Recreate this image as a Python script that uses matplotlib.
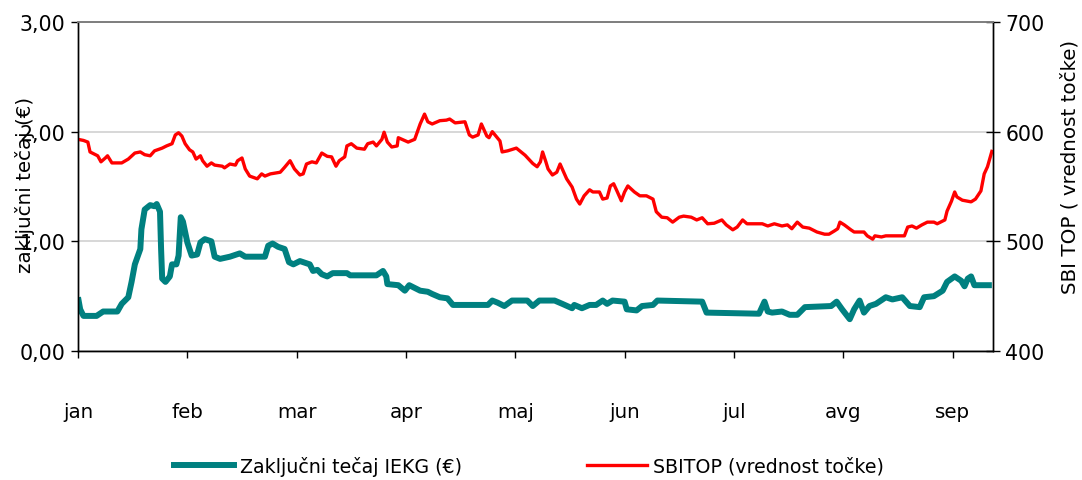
import matplotlib
matplotlib.use("Agg")
import matplotlib.pyplot as plt
from matplotlib.ticker import FuncFormatter
from matplotlib.lines import Line2D

# x positions are in months from 1 Jan (0 = jan, 1 = feb, ...)
months = ["jan", "feb", "mar", "apr", "maj", "jun", "jul", "avg", "sep"]

iekg_pos = [
    0.00, 0.02, 0.05, 0.17, 0.23, 0.36, 0.40, 0.46, 0.49, 0.52, 0.57, 0.58, 0.61, 0.66,
    0.70, 0.72, 0.75, 0.76, 0.77, 0.80, 0.84, 0.86, 0.90, 0.92, 0.94, 0.96, 1.00, 1.04,
    1.09, 1.12, 1.16, 1.22, 1.25, 1.30, 1.39, 1.48, 1.53, 1.71, 1.74, 1.78, 1.83, 1.89,
    1.93, 1.97, 2.03, 2.12, 2.15, 2.19, 2.23, 2.28, 2.33, 2.46, 2.49, 2.73, 2.79, 2.82,
    2.83, 2.93, 2.99, 3.03, 3.13, 3.20, 3.24, 3.31, 3.38, 3.43, 3.75, 3.79, 3.84, 3.90,
    3.97, 4.11, 4.16, 4.22, 4.36, 4.43, 4.52, 4.54, 4.61, 4.68, 4.74, 4.80, 4.84, 4.89,
    5.00, 5.02, 5.11, 5.16, 5.26, 5.30, 5.71, 5.75, 6.23, 6.28, 6.31, 6.35, 6.44, 6.51,
    6.58, 6.65, 6.89, 6.94, 6.99, 7.06, 7.10, 7.15, 7.19, 7.24, 7.30, 7.39, 7.45, 7.54,
    7.61, 7.70, 7.74, 7.83, 7.91, 7.95, 8.02, 8.08, 8.11, 8.14, 8.17, 8.20, 8.36,
]
iekg_close = [
    0.49, 0.38, 0.32, 0.32, 0.36, 0.36, 0.43, 0.49, 0.63, 0.79, 0.93, 1.11, 1.29, 1.33,
    1.32, 1.34, 1.27, 0.93, 0.66, 0.63, 0.68, 0.79, 0.79, 0.87, 1.22, 1.18, 0.99, 0.87,
    0.88, 0.99, 1.02, 1.00, 0.86, 0.84, 0.86, 0.89, 0.86, 0.86, 0.96, 0.98, 0.95, 0.93,
    0.81, 0.79, 0.82, 0.79, 0.73, 0.74, 0.70, 0.68, 0.71, 0.71, 0.69, 0.69, 0.73, 0.68,
    0.61, 0.60, 0.55, 0.60, 0.55, 0.54, 0.52, 0.49, 0.48, 0.42, 0.42, 0.46, 0.44, 0.41,
    0.46, 0.46, 0.41, 0.46, 0.46, 0.43, 0.39, 0.42, 0.39, 0.42, 0.42, 0.46, 0.43, 0.46,
    0.45, 0.38, 0.37, 0.41, 0.42, 0.46, 0.45, 0.35, 0.34, 0.45, 0.36, 0.35, 0.36, 0.33,
    0.33, 0.40, 0.41, 0.45, 0.38, 0.29, 0.38, 0.46, 0.35, 0.41, 0.43, 0.49, 0.47, 0.49,
    0.41, 0.40, 0.49, 0.50, 0.55, 0.63, 0.68, 0.64, 0.59, 0.66, 0.68, 0.60, 0.60,
]

sbitop_pos = [
    0.00, 0.05, 0.09, 0.11, 0.16, 0.18, 0.21, 0.25, 0.27, 0.31, 0.40, 0.46, 0.52, 0.57,
    0.61, 0.66, 0.70, 0.77, 0.81, 0.86, 0.89, 0.92, 0.95, 0.98, 1.02, 1.05, 1.08, 1.12,
    1.14, 1.18, 1.22, 1.25, 1.32, 1.34, 1.39, 1.44, 1.46, 1.50, 1.53, 1.57, 1.64, 1.68,
    1.71, 1.76, 1.85, 1.89, 1.94, 1.98, 2.03, 2.06, 2.09, 2.14, 2.18, 2.23, 2.28, 2.32,
    2.36, 2.39, 2.44, 2.46, 2.50, 2.55, 2.62, 2.65, 2.70, 2.73, 2.78, 2.80, 2.83, 2.87,
    2.92, 2.93, 3.02, 3.08, 3.13, 3.17, 3.20, 3.24, 3.31, 3.37, 3.40, 3.45, 3.54, 3.58,
    3.61, 3.66, 3.69, 3.74, 3.76, 3.79, 3.86, 3.88, 3.93, 4.01, 4.09, 4.16, 4.20, 4.23,
    4.25, 4.28, 4.30, 4.34, 4.38, 4.41, 4.43, 4.47, 4.52, 4.56, 4.59, 4.63, 4.68, 4.71,
    4.77, 4.80, 4.84, 4.87, 4.90, 4.93, 4.97, 5.00, 5.03, 5.09, 5.14, 5.20, 5.26, 5.29,
    5.34, 5.39, 5.44, 5.50, 5.54, 5.61, 5.66, 5.71, 5.76, 5.82, 5.89, 5.93, 5.99, 6.03,
    6.08, 6.12, 6.26, 6.31, 6.37, 6.44, 6.49, 6.53, 6.58, 6.63, 6.69, 6.76, 6.83, 6.87,
    6.92, 6.95, 6.97, 7.01, 7.07, 7.10, 7.19, 7.22, 7.27, 7.29, 7.35, 7.39, 7.56, 7.59,
    7.63, 7.67, 7.72, 7.77, 7.83, 7.86, 7.93, 7.95, 7.99, 8.02, 8.04, 8.09, 8.17, 8.21,
    8.26, 8.29, 8.32, 8.36,
]
sbitop_value = [
    593, 592, 590.5, 581.5, 579, 578, 572.5, 576, 578, 571.5, 571.5, 575, 580.5, 581.5,
    579, 578, 582.5, 585, 587, 589, 597, 599, 596, 589, 583.5, 581.5, 575, 578,
    573.5, 568.5, 571.5, 569.5, 568.5, 567, 570.5, 569.5, 573.5, 576, 566, 559.5, 557, 561.5,
    559.5, 561.5, 563, 567.5, 573.5, 566, 560.5, 561.5, 570.5, 572.5, 571.5, 580.5, 577.5, 577,
    568.5, 573.5, 577, 587, 589, 585, 584, 589, 590.5, 587, 593, 599.5, 590.5, 586,
    587, 594.5, 590.5, 593, 607, 616, 609, 607, 610, 610.5, 611.5, 608, 609, 597,
    595, 597, 607, 596, 594.5, 600, 591.5, 581.5, 582.5, 585, 578.5, 571, 568, 572.5,
    581.5, 572.5, 566, 560.5, 563, 570.5, 566, 557, 549.5, 538.5, 534, 541.5, 547, 545,
    545, 538.5, 539.5, 550.5, 552.5, 546, 537, 545, 550.5, 545, 541.5, 541.5, 538.5, 527,
    522, 521.5, 517.5, 522, 523, 522, 519.5, 521.5, 516, 516.5, 519.5, 515, 510.5, 513,
    519.5, 516, 516, 514, 516, 514, 515, 511.5, 517.5, 513, 512, 508.5, 506.5, 506.5,
    509.5, 511.5, 517.5, 515, 510.5, 508.5, 508.5, 505, 502, 505, 504, 505, 505, 513,
    514, 512, 515, 517.5, 517.5, 516, 519.5, 527.5, 536.5, 545, 540.5, 537.5, 536, 538.5,
    546, 561.5, 568, 582,
]

TEAL = "#008080"
RED = "#FF0000"

plt.rcParams["font.family"] = "DejaVu Sans"

fig = plt.figure(figsize=(10.82, 4.81), dpi=100)
ax = fig.add_axes([0.0721, 0.2682, 0.8456, 0.6840])
ax2 = ax.twinx()

ax.plot(iekg_pos, iekg_close, color=TEAL, lw=4.3, solid_joinstyle="round", solid_capstyle="butt")
ax2.plot(sbitop_pos, sbitop_value, color=RED, lw=2.4, solid_joinstyle="round")

ax.set_xlim(0, 8.37)
ax.set_ylim(0, 3)
ax2.set_ylim(400, 700)

ax.set_yticks([0, 1, 2, 3])
ax.yaxis.set_major_formatter(FuncFormatter(lambda v, p: f"{v:.2f}".replace(".", ",")))
ax2.set_yticks([400, 500, 600, 700])
ax.set_xticks(range(len(months)))
ax.set_xticklabels(months)

ax.grid(axis="y", color="#d4d4d4", lw=1.3)
ax.set_axisbelow(True)

for a in (ax, ax2):
    a.spines["top"].set_color("#808080")
    a.spines["top"].set_linewidth(1.3)
    for s in ("left", "right", "bottom"):
        a.spines[s].set_color("black")
        a.spines[s].set_linewidth(1.0)

ax.tick_params(axis="y", direction="out", length=5, width=1, pad=4, labelsize=14.8)
ax.tick_params(axis="x", direction="out", length=5, width=1, pad=32, labelsize=14.3)
ax2.tick_params(axis="y", direction="inout", length=10, width=1, pad=4, labelsize=14.8)

fig.text(0.023, 0.615, "zaključni tečaj (€)", rotation=90, ha="center", va="center", fontsize=14.3)
fig.text(0.989, 0.653, "SBI TOP ( vrednost točke)", rotation=90, ha="center", va="center", fontsize=14.3)

handles = [
    Line2D([], [], color=TEAL, lw=4.3),
    Line2D([], [], color=RED, lw=2.4),
]
fig.legend(handles, ["Zaključni tečaj IEKG (€)", "SBITOP (vrednost točke)"],
           loc="center", bbox_to_anchor=(0.489, 0.03), ncol=2, frameon=False,
           fontsize=13.7, handlelength=3.15, handletextpad=0.3, columnspacing=6.6)

fig.savefig("out.png", dpi=100)
